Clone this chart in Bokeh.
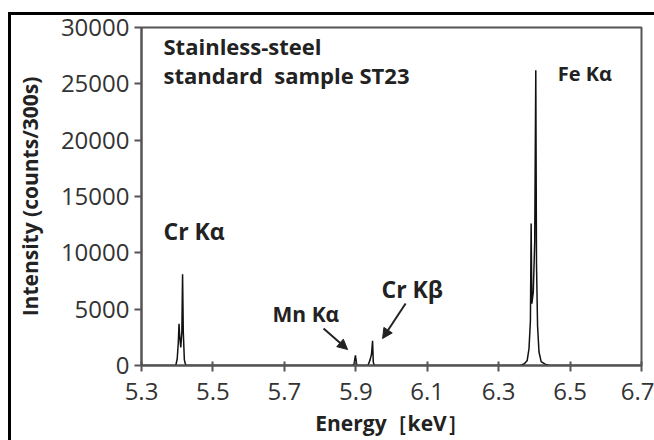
from bokeh.plotting import figure
from bokeh.models import (Label, Arrow, NormalHead, FixedTicker, ColumnDataSource, Range1d,
                          InlineStyleSheet)
from bokeh.embed import file_html
from bokeh.resources import INLINE

# Spectrum trace (energy keV, counts per 300 s)
energy = [5.300, 5.396, 5.400, 5.403, 5.405, 5.407, 5.410, 5.413, 5.415, 5.417, 5.420, 5.424,
          5.890, 5.895, 5.899, 5.903, 5.934, 5.940, 5.944, 5.947, 5.949, 5.952,
          6.360, 6.372, 6.380, 6.385, 6.389, 6.391, 6.393, 6.397, 6.401, 6.404, 6.406,
          6.409, 6.413, 6.419, 6.430, 6.442, 6.700]
counts = [0, 0, 600, 2000, 3700, 2600, 1600, 3000, 8100, 3000, 500, 0,
          0, 100, 900, 0, 0, 500, 1000, 2200, 300, 0,
          0, 150, 450, 1500, 4000, 12600, 5500, 6500, 11000, 26200, 9000,
          3500, 1200, 350, 120, 0, 0]

x_ticks = [5.3, 5.5, 5.7, 5.9, 6.1, 6.3, 6.5, 6.7]
y_ticks = [0, 5000, 10000, 15000, 20000, 25000, 30000]

x_title = "Energy\uff3bkeV\uff3d"
y_title = "Intensity (counts/300s)"
note_lines = ["Stainless-steel", "standard\u00a0\u00a0sample ST23"]
note_y = [28400, 25750]
peak_names = ["Cr K\u03b1", "Mn K\u03b1", "Cr K\u03b2", "Fe K\u03b1"]
peak_label_pos = [(5.3616, 11900), (5.667, 4615), (5.972, 6834), (6.4653, 25900)]
peak_font = ["23px", "21px", "23px", "20px"]
arrow_from = [(5.8098, 3284), (6.0395, 5503)]
arrow_to = [(5.877, 1420), (5.975, 2396)]

FONT = "Open Sans"
AX = "#555555"
TXT = "#222222"

frame_css = InlineStyleSheet(css="""
:host { position: relative; }
:host::after { content: ""; position: absolute; left: 8px; top: 12px; right: 0px; bottom: 0px;
  border-left: 3px solid black; border-top: 3px solid black; pointer-events: none; z-index: 50; }
""")

p = figure(width=654, height=440, output_backend="svg", toolbar_location=None,
           x_range=Range1d(5.3, 6.7), y_range=Range1d(0, 30000),
           min_border_left=141, min_border_right=13, min_border_top=27, min_border_bottom=75,
           stylesheets=[frame_css])
p.background_fill_color = "white"
p.border_fill_color = "white"
p.outline_line_color = AX
p.outline_line_width = 2
p.grid.visible = False

p.line(x="e", y="c", source=ColumnDataSource(dict(e=energy, c=counts)),
       line_color="#111111", line_width=1.5)

for ax in (p.xaxis[0], p.yaxis[0]):
    ax.axis_line_color = AX
    ax.axis_line_width = 2
    ax.major_tick_line_color = AX
    ax.major_tick_line_width = 2
    ax.minor_tick_line_color = None
    ax.major_label_text_font = FONT
    ax.major_label_text_font_size = "24px"
    ax.major_label_text_color = "#333333"
    ax.axis_label_text_font = FONT
    ax.axis_label_text_font_size = "21px"
    ax.axis_label_text_font_style = "bold"
    ax.axis_label_text_color = TXT

p.xaxis.ticker = FixedTicker(ticks=x_ticks)
p.yaxis.ticker = FixedTicker(ticks=y_ticks)
p.xaxis.major_label_overrides = {t: f"{t:.1f}" for t in x_ticks}
p.xaxis.major_tick_in = 4
p.xaxis.major_tick_out = 6
p.yaxis.major_tick_in = 0
p.yaxis.major_tick_out = 7
p.xaxis.major_label_standoff = 11
p.yaxis.major_label_standoff = 5
p.xaxis.axis_label = x_title
p.xaxis.axis_label_standoff = 6
p.yaxis.axis_label = y_title
p.yaxis.axis_label_standoff = 14

for line, ly in zip(note_lines, note_y):
    p.add_layout(Label(x=5.3616, y=ly, text=line, text_font=FONT,
                       text_font_size="22px", text_font_style="bold", text_color=TXT,
                       text_baseline="middle", text_align="left"))
for name, (lx, ly), fs in zip(peak_names, peak_label_pos, peak_font):
    p.add_layout(Label(x=lx, y=ly, text=name, text_font=FONT, text_font_size=fs,
                       text_font_style="bold", text_color=TXT,
                       text_baseline="middle", text_align="left"))
for (x0, y0), (x1, y1) in zip(arrow_from, arrow_to):
    p.add_layout(Arrow(x_start=x0, y_start=y0, x_end=x1, y_end=y1, line_color=TXT,
                       line_width=2, end=NormalHead(size=10, fill_color=TXT, line_color=TXT)))

open("out.html", "w").write(file_html(p, INLINE))
